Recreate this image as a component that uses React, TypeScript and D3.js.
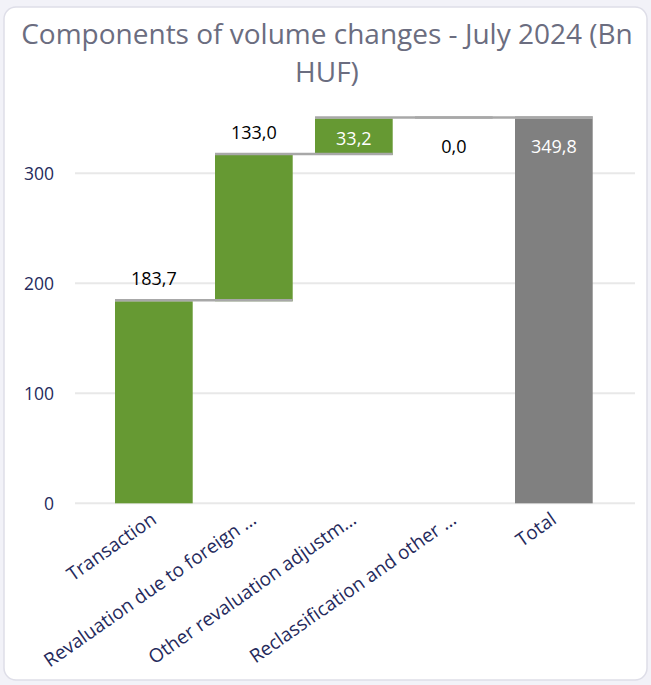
import React from "react";
import * as d3 from "d3";

const titleLines = ["Components of volume changes - July 2024 (Bn", "HUF)"];
const categories = [
  "Transaction",
  "Revaluation due to foreign …",
  "Other revaluation adjustm…",
  "Reclassification and other …",
  "Total",
];
const values = [183.7, 133.0, 33.2, 0.0, 349.8];
const isTotal = [false, false, false, false, true];
const valueLabels = ["183,7", "133,0", "33,2", "0,0", "349,8"];
const yTicks = [0, 100, 200, 300];

const W = 651;
const H = 685;
const FONT = "'Open Sans', 'Noto Sans', sans-serif";
const GREEN = "#669933";
const GREY = "#808080";
const NAVY = "#252a5c";

export default function App() {
  const y = d3.scaleLinear().domain([0, 350]).range([503.3, 118.3]);
  const x = d3
    .scaleBand<string>()
    .domain(categories)
    .range([103.85, 603.85])
    .paddingInner(0.223)
    .paddingOuter(0.1115);
  const bw = x.bandwidth();

  let run = 0;
  const bars = categories.map((c, i) => {
    let lo: number, hi: number;
    if (isTotal[i]) {
      lo = 0;
      hi = values[i];
    } else {
      lo = run;
      hi = run + values[i];
      run = hi;
    }
    return { c, i, lo, hi };
  });

  const plotTop = y(350);

  return (
    <div style={{ position: "absolute", left: 0, top: 0, width: W, height: H }}>
      <svg width={W} height={H} style={{ display: "block", fontFamily: FONT }}>
        <rect x={0} y={0} width={W} height={H} fill="#f2f2f8" />
        <rect x={4} y={7} width={643} height={673} rx={12} ry={12} fill="#ffffff" stroke="#dedee8" strokeWidth={1.5} />
        {titleLines.map((t, i) => (
          <text key={i} x={327} y={43.5 + i * 38.2} textAnchor="middle" fontSize={28} fill="#6b6d80">
            {t}
          </text>
        ))}
        {yTicks.map((t) => (
          <line key={t} x1={75} x2={635} y1={y(t)} y2={y(t)} stroke="#e8e8e8" strokeWidth={2} />
        ))}
        {yTicks.map((t) => (
          <text key={"l" + t} x={54} y={y(t)} dy="0.36em" textAnchor="end" fontSize={17.5} fill={NAVY}>
            {t}
          </text>
        ))}
        {bars.map((b) => {
          const x0 = x(b.c) as number;
          const top = y(b.hi);
          const bot = y(b.lo);
          return (
            <rect key={b.c} x={x0} y={top} width={bw} height={Math.max(0, bot - top)} fill={isTotal[b.i] ? GREY : GREEN} />
          );
        })}
        {bars.map((b, i) => {
          if (isTotal[i] || i === bars.length - 1) return null;
          const x0 = x(b.c) as number;
          const x1 = (x(categories[i + 1]) as number) + bw;
          const yy = y(b.hi);
          return <line key={"c" + i} x1={x0} x2={x1} y1={yy - 1} y2={yy - 1} stroke="#a8a8a8" strokeWidth={2.5} />;
        })}
        {bars.map((b, i) =>
          isTotal[i] ? (
            <line key={"t" + i} x1={x(b.c) as number} x2={(x(b.c) as number) + bw} y1={y(b.hi) - 1} y2={y(b.hi) - 1} stroke="#a8a8a8" strokeWidth={2.5} />
          ) : null
        )}
        {bars.map((b, i) => {
          const cx = (x(b.c) as number) + bw / 2;
          const top = y(b.hi);
          const bot = y(b.lo);
          const h = bot - top;
          let yy: number;
          let fill = "#000000";
          if (top - 30 > plotTop) {
            yy = top - 16;
          } else if (h > 60) {
            yy = top + 34.5;
            fill = "#ffffff";
          } else if (h > 1) {
            yy = (top + bot) / 2 + 8.5;
            fill = "#ffffff";
          } else {
            yy = top + 34.5;
          }
          return (
            <text key={"v" + i} x={cx} y={yy} textAnchor="middle" fontSize={18} fill={fill}>
              {valueLabels[i]}
            </text>
          );
        })}
        {categories.map((c) => {
          const cx = (x(c) as number) + bw / 2;
          return (
            <text
              key={"x" + c}
              transform={`translate(${cx - 4},${511}) rotate(-35)`}
              dy="0.72em"
              textAnchor="end"
              fontSize={19}
              fill={NAVY}
            >
              {c}
            </text>
          );
        })}
      </svg>
    </div>
  );
}
